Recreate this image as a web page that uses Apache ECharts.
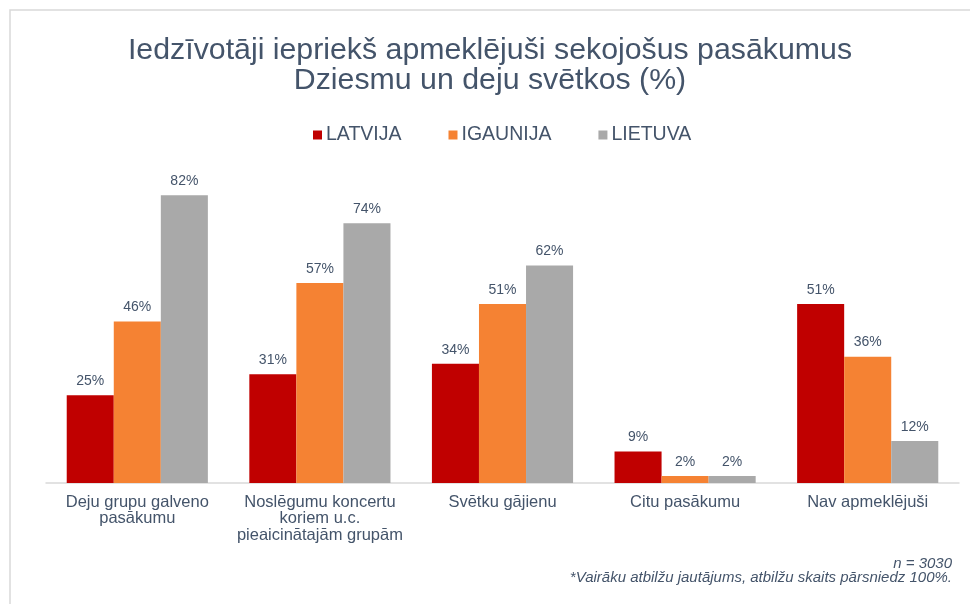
<!DOCTYPE html>
<html><head><meta charset="utf-8">
<script src="https://cdn.jsdelivr.net/npm/echarts@6/dist/echarts.min.js"></script>
<style>html,body{margin:0;padding:0;background:#fff}#c{width:970px;height:604px}</style>
</head><body><div id="c"></div>
<script>
const categories = ['Deju grupu galveno\npasākumu', 'Noslēgumu koncertu\nkoriem u.c.\npieaicinātajām grupām', 'Svētku gājienu', 'Citu pasākumu', 'Nav apmeklējuši'];
const seriesNames = ['LATVIJA', 'IGAUNIJA', 'LIETUVA'];
const latvija = [25, 31, 34, 9, 51];
const igaunija = [46, 57, 51, 2, 36];
const lietuva = [82, 74, 62, 2, 12];
const footnotes = ['n = 3030', '*Vairāku atbilžu jautājums, atbilžu skaits pārsniedz 100%.'];
const colors = ['#c00000', '#f58233', '#a9a9a9'];
const txt = '#44546a';
const font = 'Liberation Sans, Arial, sans-serif';

const chart = echarts.init(document.getElementById('c'));
const mk = (name, data, color) => ({
  name, type: 'bar', data, barGap: '0%', barCategoryGap: '22.7%',
  itemStyle: { color },
  label: { show: true, position: 'top', distance: 7, formatter: '{c}%', color: txt, fontSize: 14, fontFamily: font }
});
chart.setOption({
  animation: false,
  title: {
    text: 'Iedzīvotāji iepriekš apmeklējuši sekojošus pasākumus\nDziesmu un deju svētkos (%)',
    left: 485, textAlign: 'center', top: 31,
    textStyle: { color: txt, fontSize: 30.3, fontWeight: 'normal', fontFamily: font, lineHeight: 30 }
  },
  legend: {
    top: 120, left: 308, itemWidth: 9, itemHeight: 9, itemGap: 47,
    icon: 'rect',
    textStyle: { color: txt, fontSize: 19.5, fontFamily: font, padding: [0, 0, 0, -1] },
    data: seriesNames
  },
  graphic: [{
    type: 'polyline', silent: true,
    shape: { points: [[10, 604], [10, 10], [970, 10]] },
    style: { stroke: '#d9d9d9', lineWidth: 1.5, fill: null }
  }, {
    type: 'text', right: 18, top: 556,
    style: { text: footnotes[0], fill: txt, fontSize: 15, fontStyle: 'italic', fontFamily: font }
  }, {
    type: 'text', right: 18, top: 570,
    style: { text: footnotes[1], fill: txt, fontSize: 15, fontStyle: 'italic', fontFamily: font }
  }],
  grid: { left: 46, right: 11, top: 132, bottom: 121, containLabel: false },
  xAxis: {
    type: 'category', data: categories,
    axisLine: { lineStyle: { color: '#d9d9d9', width: 1.5 } },
    axisTick: { show: false },
    axisLabel: { color: txt, fontSize: 16.5, fontFamily: font, margin: 11, lineHeight: 16.5, interval: 0 }
  },
  yAxis: { type: 'value', min: 0, max: 100, show: false, splitLine: { show: false } },
  series: [mk(seriesNames[0], latvija, colors[0]), mk(seriesNames[1], igaunija, colors[1]), mk(seriesNames[2], lietuva, colors[2])]
});
</script></body></html>
